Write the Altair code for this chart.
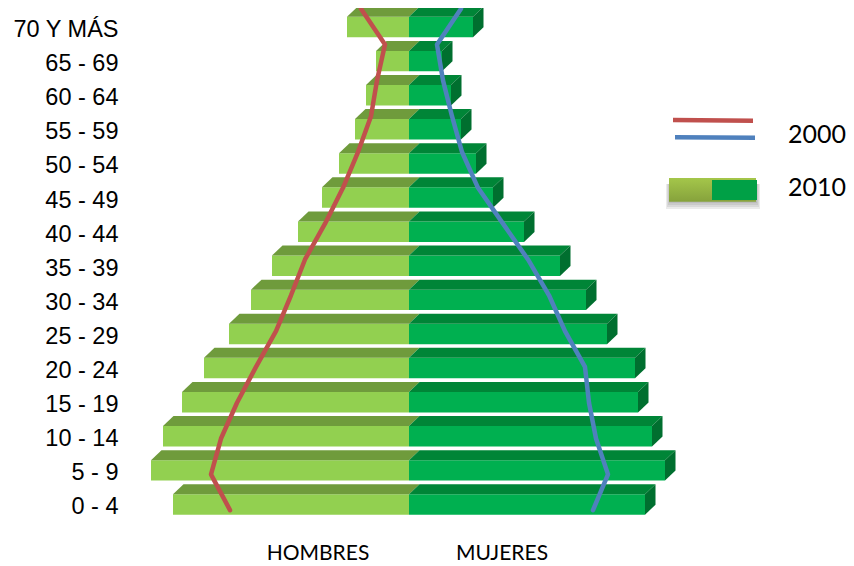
import altair as alt
import pandas as pd

ages = ["0 - 4", "5 - 9", "10 - 14", "15 - 19", "20 - 24", "25 - 29", "30 - 34", "35 - 39",
        "40 - 44", "45 - 49", "50 - 54", "55 - 59", "60 - 64", "65 - 69", "70 Y MÁS"]
men_2010 = [236, 258, 246, 227, 205, 180, 158, 137, 111, 87, 70, 54, 43, 33, 62]
women_2010 = [236, 256, 243, 229, 226, 198, 177, 151, 115, 84, 67, 52, 42, 33, 64]
men_2000 = [179, 198, 188, 172, 153, 133, 118, 104, 84, 66, 51, 38, 32, 24, 48]
women_2000 = [184, 199, 187, 180, 176, 156, 140, 119, 94, 69, 53, 43, 34, 28, 52]

DEPTH_X = 10.5
FRONT_HALF = 0.30
DEPTH_Y = 0.293
LINE_ROW0 = -0.167
LINE_STEP = 1.0502
CX = 409

def to_row(py):
    return (504.3 - py) / 34.09

C_MEN, C_MEN_TOP = "#92D050", "#6F9B3C"
C_WOM, C_WOM_TOP, C_WOM_SIDE = "#00B050", "#008537", "#006F2F"
C_RED, C_BLUE = "#C0504D", "#4F81BD"

front_m, front_w, top_m, top_w, side = [], [], [], [], []
for i, (m, w) in enumerate(zip(men_2010, women_2010)):
    y0, yf = i - FRONT_HALF, i + FRONT_HALF
    yb = yf + DEPTH_Y
    front_m.append(dict(x=-m, x2=0, y=y0, y2=yf))
    front_w.append(dict(x=0, x2=w, y=y0, y2=yf))
    top_m += [dict(row=i, y=yf, x=-m, x2=0), dict(row=i, y=yb, x=-m + DEPTH_X, x2=DEPTH_X)]
    top_w += [dict(row=i, y=yf, x=0, x2=w), dict(row=i, y=yb, x=DEPTH_X, x2=w + DEPTH_X)]
    side += [dict(row=i, x=w, y=y0, y2=yf), dict(row=i, x=w + DEPTH_X, y=y0 + DEPTH_Y, y2=yb)]

x_scale = alt.Scale(domain=[-284, 437], nice=False, zero=False)
y_scale = alt.Scale(domain=[-1.804, 14.558], nice=False, zero=False)
y_axis = alt.Axis(values=list(range(len(ages))), title=None, domain=False, ticks=False, grid=False,
                  labelExpr="%s[datum.value]" % repr(ages), labelFont="Liberation Sans", labelFontSize=23.5,
                  labelColor="#000000", labelPadding=7, labelOffset=2.5, labelOverlap=False,
                  labelBound=False, labelFlush=False)
X = alt.X("x:Q", scale=x_scale, axis=None)
Y = alt.Y("y:Q", scale=y_scale, axis=y_axis)


def rect(rows, **mark):
    return alt.Chart(pd.DataFrame(rows)).mark_rect(**mark).encode(x=X, x2="x2:Q", y=Y, y2="y2:Q")


def top_face(rows, color):
    return alt.Chart(pd.DataFrame(rows)).mark_area(orient="horizontal", color=color).encode(
        y=Y, x=X, x2="x2:Q", detail="row:N")


def poly(xs, ys, color, width):
    df = pd.DataFrame({"x": xs, "y": ys, "i": range(len(xs))})
    return alt.Chart(df).mark_line(color=color, strokeWidth=width, strokeJoin="round", strokeCap="round").encode(
        x=X, y=Y, order="i:Q")


side_layer = alt.Chart(pd.DataFrame(side)).mark_area(orient="vertical", color=C_WOM_SIDE).encode(
    x=X, y=Y, y2="y2:Q", detail="row:N")
line_y = [LINE_ROW0 + LINE_STEP * i for i in range(len(ages))]
line_m = poly([-v for v in men_2000], line_y, C_RED, 4.5)
line_w = poly(women_2000, line_y, C_BLUE, 4.5)

leg_m = alt.Chart(pd.DataFrame({"x": [673 - CX, 753 - CX], "y": [to_row(120), to_row(120.7)], "i": [0, 1]})).mark_line(
    color=C_RED, strokeWidth=4.5).encode(x=X, y=Y, order="i:Q")
leg_w = alt.Chart(pd.DataFrame({"x": [675 - CX, 755 - CX], "y": [to_row(137.3), to_row(137.7)], "i": [0, 1]})).mark_line(
    color=C_BLUE, strokeWidth=4.5).encode(x=X, y=Y, order="i:Q")
shadow = rect([dict(x=669 - CX, x2=757 - CX, y=to_row(203), y2=to_row(184)),
               dict(x=668 - CX, x2=758 - CX, y=to_row(205), y2=to_row(184)),
               dict(x=667 - CX, x2=759 - CX, y=to_row(207), y2=to_row(184)),
               dict(x=666 - CX, x2=760 - CX, y=to_row(209), y2=to_row(184))], color="#666666", opacity=0.13)
olive = rect([dict(x=669 - CX, x2=756 - CX, y=to_row(201.7), y2=to_row(178))],
             color=alt.LinearGradient(gradient="linear", x1=0, x2=0, y1=0, y2=1,
                                      stops=[alt.GradientStop(color="#A4C64A", offset=0),
                                             alt.GradientStop(color="#86A23C", offset=1)]))
dark = rect([dict(x=712 - CX, x2=757 - CX, y=to_row(200), y2=to_row(180))], color="#00A046")

leg_text = alt.Chart(pd.DataFrame([
    dict(x=788 - CX, y=to_row(135), t="2000"), dict(x=788 - CX, y=to_row(188), t="2010")])).mark_text(
    align="left", baseline="middle", font="Lato", fontSize=25, color="#000000").encode(x=X, y=Y, text="t:N")
sex_text = alt.Chart(pd.DataFrame([
    dict(x=318 - CX, y=to_row(554), t="HOMBRES"), dict(x=502 - CX, y=to_row(554), t="MUJERES")])).mark_text(
    align="center", baseline="middle", font="Lato", fontSize=21, color="#000000").encode(x=X, y=Y, text="t:N")

chart = alt.layer(
    rect(front_m, color=C_MEN), rect(front_w, color=C_WOM), top_face(top_m, C_MEN_TOP), top_face(top_w, C_WOM_TOP),
    side_layer, line_m, line_w, leg_m, leg_w, shadow, olive, dark, leg_text, sex_text
).properties(
    width=721, height=558, padding={"left": 117, "top": 0, "right": 0, "bottom": 0},
    autosize=alt.AutoSizeParams(type="none")
).configure_view(stroke=None)

chart.save("out.html", embed_options={"renderer": "svg", "actions": False})
